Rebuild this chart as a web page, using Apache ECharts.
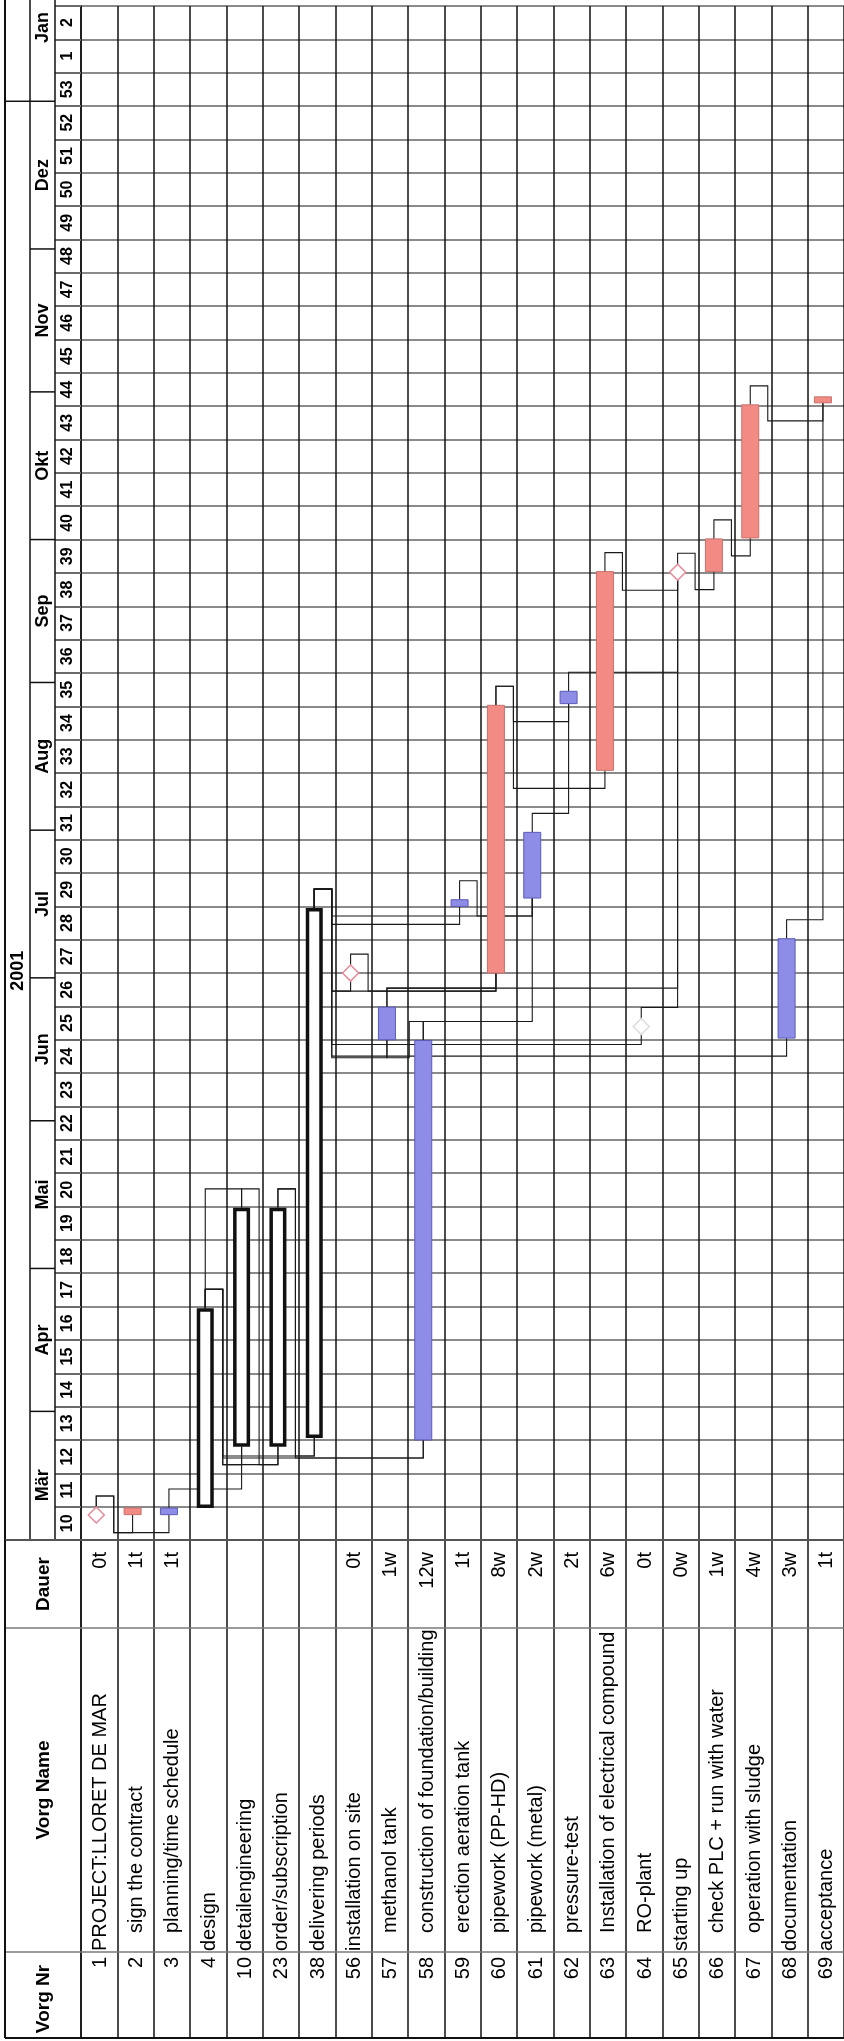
<!DOCTYPE html>
<html>
<head>
<meta charset="utf-8">
<title>PROJECT:LLORET DE MAR</title>
<script src="https://cdn.jsdelivr.net/npm/echarts@6/dist/echarts.min.js"></script>
<style>
  html, body { margin: 0; padding: 0; background: #fff; }
  #main { width: 844px; height: 2041px; }
</style>
</head>
<body>
<div id="main"></div>
<script>
// Vorgänge, von oben nach unten im Originalplan
const taskNr = [1, 2, 3, 4, 10, 23, 38, 56, 57, 58, 59, 60, 61, 62, 63, 64, 65, 66, 67, 68, 69];
const taskName = ['PROJECT:LLORET DE MAR', 'sign the contract', 'planning/time schedule', 'design',
  'detailengineering', 'order/subscription', 'delivering periods', 'installation on site',
  'methanol tank', 'construction of foundation/building', 'erection aeration tank',
  'pipework (PP-HD)', 'pipework (metal)', 'pressure-test', 'Installation of electrical compound',
  'RO-plant', 'starting up', 'check PLC + run with water', 'operation with sludge',
  'documentation', 'acceptance'];
const taskDauer = ['0t', '1t', '1t', '', '', '', '', '0t', '1w', '12w', '1t', '8w', '2w', '2t', '6w',
  '0t', '0w', '1w', '4w', '3w', '1t'];
const taskLevel = [1, 2, 2, 1, 1, 1, 1, 1, 2, 2, 2, 2, 2, 2, 2, 2, 1, 2, 2, 1, 1];
// ms = Meilenstein, crit = kritisch (rot), norm = blau, sum = Sammelvorgang
const taskKind = ['ms', 'crit', 'norm', 'sum', 'sum', 'sum', 'sum', 'ms', 'norm', 'norm', 'norm',
  'crit', 'norm', 'norm', 'crit', 'msfaint', 'ms', 'crit', 'crit', 'norm', 'crit'];
// Zeit in Kalenderwochen (KW w beginnt bei w.0)
const taskStart = [10.75, 10.76, 10.76, 10.96, 12.8, 12.8, 13.06, 27.0, 25.0, 13.0, 29.0, 27.0,
  29.25, 35.08, 33.08, 25.4, 39.02, 39.04, 40.05, 25.05, 44.1];
const taskEnd = [10.75, 10.96, 10.96, 16.95, 19.96, 19.96, 28.95, 27.0, 25.98, 24.98, 29.2, 35.03,
  31.22, 35.45, 39.04, 25.4, 39.02, 40.02, 44.04, 28.03, 44.28];

// Anordnungsbeziehungen (Zeilenindex)
const linkFrom = [0, 0, 2, 3, 3, 3, 3, 4, 4, 5, 5, 6, 6, 6, 6, 6, 6, 6, 7, 8, 8, 9, 9, 10, 11, 11, 12, 13, 14, 15, 16, 17, 18, 19];
const linkTo   = [1, 2, 4, 4, 5, 6, 9, 3, 5, 6, 9, 7, 8, 10, 11, 12, 15, 19, 11, 11, 16, 8, 12, 12, 13, 14, 13, 16, 16, 16, 17, 18, 20, 20];
const linkType = ['FS', 'FS', 'FS', 'FS', 'FS', 'FS', 'FS', 'FF', 'FS', 'FS', 'FS', 'FS', 'FS', 'FS', 'FS', 'FS', 'FS',
  'FS', 'FS', 'FS', 'FS', 'FS', 'FS', 'FS', 'FS', 'FS', 'FS', 'FS', 'FS', 'FS', 'FS', 'FS', 'FS', 'FS'];

// Zeitskala
const weekLabels = ['10', '11', '12', '13', '14', '15', '16', '17', '18', '19', '20', '21', '22', '23',
  '24', '25', '26', '27', '28', '29', '30', '31', '32', '33', '34', '35', '36', '37', '38', '39', '40',
  '41', '42', '43', '44', '45', '46', '47', '48', '49', '50', '51', '52', '53', '1', '2'];
const monthNames = ['Mär', 'Apr', 'Mai', 'Jun', 'Jul', 'Aug', 'Sep', 'Okt', 'Nov', 'Dez', 'Jan'];
const monthBounds = ['2001-03-01', '2001-04-01', '2001-05-01', '2001-06-01', '2001-07-01', '2001-08-01',
  '2001-09-01', '2001-10-01', '2001-11-01', '2001-12-01', '2002-01-01', '2002-02-01'];
const yearNames = ['2001', '2002'];
const yearBounds = ['2001-01-01', '2002-01-01', '2003-01-01'];

const ROWS = taskNr.length;
const BAR_POS = 0.42;
const FONT = '"Liberation Sans", Arial, sans-serif';
// Tabellenspalten (px unterhalb der Zeitachse)
const COL_DAUER = 88, COL_NAME = 412, TABLE_H = 498;

function weekOf(s) {
  const d = Date.parse(s + 'T00:00:00Z');
  return 1 + (d - Date.UTC(2001, 0, 1)) / (7 * 86400000);
}
function seg(x1, y1, x2, y2, color, w) {
  return { type: 'line', shape: { x1: x1, y1: y1, x2: x2, y2: y2 }, style: { stroke: color, lineWidth: w } };
}
function vtext(x, y, text, align, font, extra) {
  return {
    type: 'text', x: x, y: y, rotation: Math.PI / 2,
    style: Object.assign({ text: text, fill: '#000', font: font, align: align, verticalAlign: 'middle' }, extra || {})
  };
}

function renderHeader(params, api) {
  const kids = [];
  const x0 = api.coord([0, 10])[0];
  const yB = api.coord([0, 10])[1];
  const xW = x0 - 26, xM = x0 - 51, xY = x0 - 76;
  kids.push(seg(xY, 0, xY, yB, '#111', 2));
  kids.push(seg(xM, 0, xM, yB, '#111', 1.5));
  kids.push(seg(xW, 0, xW, yB, '#111', 1.5));
  weekLabels.forEach(function (w, k) {
    const y = api.coord([0, 10 + k + 0.5])[1];
    kids.push(vtext(x0 - 13, y, w, 'center', 'bold 16px ' + FONT));
  });
  for (let m = 0; m < monthNames.length; m++) {
    const s = weekOf(monthBounds[m]), e = weekOf(monthBounds[m + 1]);
    kids.push(vtext(x0 - 38, api.coord([0, (s + e) / 2])[1], monthNames[m], 'center', 'bold 18px ' + FONT));
    if (s > 10 && s < 56) {
      const ys = api.coord([0, s])[1];
      kids.push(seg(xM, ys, xW, ys, '#111', 1.5));
    }
  }
  for (let j = 0; j < yearNames.length; j++) {
    const s = weekOf(yearBounds[j]), e = weekOf(yearBounds[j + 1]);
    kids.push(vtext(x0 - 63, api.coord([0, (s + e) / 2])[1], yearNames[j], 'center', 'bold 18px ' + FONT));
    if (s > 10 && s < 56) {
      const ys = api.coord([0, s])[1];
      kids.push(seg(xY, ys, xM, ys, '#111', 1.5));
    }
  }
  return { type: 'group', children: kids };
}

function renderLink(params, api) {
  const a = api.value(0), b = api.value(1);
  const pa = api.coord([a + BAR_POS, taskEnd[a]]);
  const up = 19, down = 18;
  const y1 = pa[1] - up;
  let pts;
  if (linkType[params.dataIndex] === 'FF') {
    const pe = api.coord([b + BAR_POS, taskEnd[b]]);
    pts = [pa, [pa[0], y1], [pe[0], y1], pe];
  } else {
    const pb = api.coord([b + BAR_POS, taskStart[b]]);
    if (b > a && y1 - pb[1] > 4) {
      pts = [pa, [pa[0], y1], [pb[0], y1], pb];
    } else {
      const xs = b > a ? pa[0] + 17.5 : pa[0] - 14;
      const y2 = pb[1] + down;
      pts = [pa, [pa[0], y1], [xs, y1], [xs, y2], [pb[0], y2], pb];
    }
  }
  return { type: 'polyline', shape: { points: pts }, style: { stroke: '#1a1a1a', lineWidth: 1.1, fill: null } };
}

const barColors = { crit: ['#f38b85', '#c9716c'], norm: ['#8d8de8', '#5b5bb6'] };
function renderBar(params, api) {
  const row = api.value(0);
  const p1 = api.coord([row + BAR_POS, api.value(1)]);
  const p2 = api.coord([row + BAR_POS, api.value(2)]);
  const kind = taskKind[row];
  if (kind === 'sum') {
    return {
      type: 'rect',
      shape: { x: p1[0] - 6.75, y: p2[1] + 1.75, width: 13.5, height: p1[1] - p2[1] - 3.5 },
      style: { fill: '#fff', stroke: '#111', lineWidth: 3.5 }
    };
  }
  const c = barColors[kind];
  return {
    type: 'rect',
    shape: { x: p1[0] - 8.5, y: p2[1], width: 17, height: Math.max(p1[1] - p2[1], 5) },
    style: { fill: c[0], stroke: c[1], lineWidth: 1 }
  };
}

function renderMilestone(params, api) {
  const row = api.value(0);
  const p = api.coord([row + BAR_POS, api.value(1)]);
  const faint = taskKind[row] === 'msfaint';
  return {
    type: 'polygon',
    shape: { points: [[p[0], p[1] - 8], [p[0] + 8, p[1]], [p[0], p[1] + 8], [p[0] - 8, p[1]]] },
    style: { fill: '#fff', stroke: faint ? '#dcdcdc' : '#e68a98', lineWidth: 1.5 }
  };
}

function renderTableFrame(params, api) {
  const p0 = api.coord([0, 0]);
  const x0 = p0[0], xR = api.coord([ROWS, 0])[0], xL = x0 - 76;
  const yTop = p0[1];
  const yDa = api.coord([0, COL_DAUER])[1];
  const yNa = api.coord([0, COL_NAME])[1];
  const yBot = api.coord([0, TABLE_H])[1];
  const hf = 'bold 19px ' + FONT;
  return {
    type: 'group',
    children: [
      seg(xL, yTop, xR, yTop, '#555', 2.2),
      seg(xL, yDa, xR, yDa, '#7a7a7a', 1.6),
      seg(xL, yNa, xR, yNa, '#7a7a7a', 1.6),
      seg(xL, yBot, xR, yBot, '#111', 2),
      seg(xL, yTop, xL, yBot, '#111', 2),
      vtext(x0 - 37, (yTop + yDa) / 2, 'Dauer', 'center', hf),
      vtext(x0 - 37, (yDa + yNa) / 2, 'Vorg Name', 'center', hf),
      vtext(x0 - 37, (yNa + yBot) / 2 + 4, 'Vorg Nr', 'center', hf)
    ]
  };
}

function renderRow(params, api) {
  const i = params.dataIndex;
  const xc = api.coord([i + 0.5, 0])[0] + 1;
  const yDauer = api.coord([i + 0.5, 12])[1];
  const yName = api.coord([i + 0.5, taskLevel[i] === 1 ? 411 : 393])[1];
  const yNr = api.coord([i + 0.5, 417])[1];
  const yClip = api.coord([i + 0.5, COL_DAUER])[1];
  const f = '20px ' + FONT;
  return {
    type: 'group',
    children: [
      vtext(xc, yNr, String(taskNr[i]), 'right', f),
      vtext(xc, yName, taskName[i], 'left', f, { width: yName - yClip, overflow: 'truncate', ellipsis: '' }),
      vtext(xc, yDauer, taskDauer[i], 'right', f)
    ]
  };
}

const barData = [], msData = [], linkData = [];
for (let i = 0; i < ROWS; i++) {
  if (taskKind[i] === 'ms' || taskKind[i] === 'msfaint') msData.push([i, taskStart[i]]);
  else barData.push([i, taskStart[i], taskEnd[i]]);
}
for (let k = 0; k < linkFrom.length; k++) linkData.push([linkFrom[k], linkTo[k]]);

const chart = echarts.init(document.getElementById('main'));
chart.setOption({
  animation: false,
  backgroundColor: '#fff',
  grid: [
    { left: 81, top: 6, width: 768.6, height: 1534 },
    { left: 81, top: 1540, width: 768.6, height: TABLE_H }
  ],
  xAxis: [
    {
      gridIndex: 0, type: 'value', min: 0, max: ROWS, interval: 1,
      axisLine: { show: false }, axisTick: { show: false }, axisLabel: { show: false },
      splitLine: { show: true, lineStyle: { color: '#111', width: 1.5 } }
    },
    {
      gridIndex: 1, type: 'value', min: 0, max: ROWS, interval: 1,
      axisLine: { show: false }, axisTick: { show: false }, axisLabel: { show: false },
      splitLine: { show: true, lineStyle: { color: '#111', width: 1.5 } }
    }
  ],
  yAxis: [
    {
      gridIndex: 0, type: 'value', min: 10, max: 56, interval: 1,
      axisLine: { show: true, lineStyle: { color: '#111', width: 1.5 } },
      axisTick: { show: true, length: 26, lineStyle: { color: '#6a6a6a', width: 2 } },
      axisLabel: { show: false },
      splitLine: { show: true, lineStyle: { color: '#8a8a8a', width: 2 } }
    },
    {
      gridIndex: 1, type: 'value', min: 0, max: TABLE_H, inverse: true,
      axisLine: { show: true, lineStyle: { color: '#111', width: 1.5 } },
      axisTick: { show: false }, axisLabel: { show: false }, splitLine: { show: false }
    }
  ],
  series: [
    { type: 'custom', name: 'header', xAxisIndex: 0, yAxisIndex: 0, data: [[0, 10]], renderItem: renderHeader, clip: false, silent: true, z: 3 },
    { type: 'custom', name: 'links', xAxisIndex: 0, yAxisIndex: 0, data: linkData, renderItem: renderLink, silent: true, z: 4 },
    { type: 'custom', name: 'bars', xAxisIndex: 0, yAxisIndex: 0, data: barData, renderItem: renderBar, silent: true, z: 5 },
    { type: 'custom', name: 'milestones', xAxisIndex: 0, yAxisIndex: 0, data: msData, renderItem: renderMilestone, silent: true, z: 6 },
    { type: 'custom', name: 'frame', xAxisIndex: 1, yAxisIndex: 1, data: [[0, 0]], renderItem: renderTableFrame, clip: false, silent: true, z: 3 },
    { type: 'custom', name: 'rows', xAxisIndex: 1, yAxisIndex: 1, data: taskNr.map(function (n, i) { return [i + 0.5, 0]; }), renderItem: renderRow, clip: false, silent: true, z: 4 }
  ]
});
</script>
</body>
</html>
